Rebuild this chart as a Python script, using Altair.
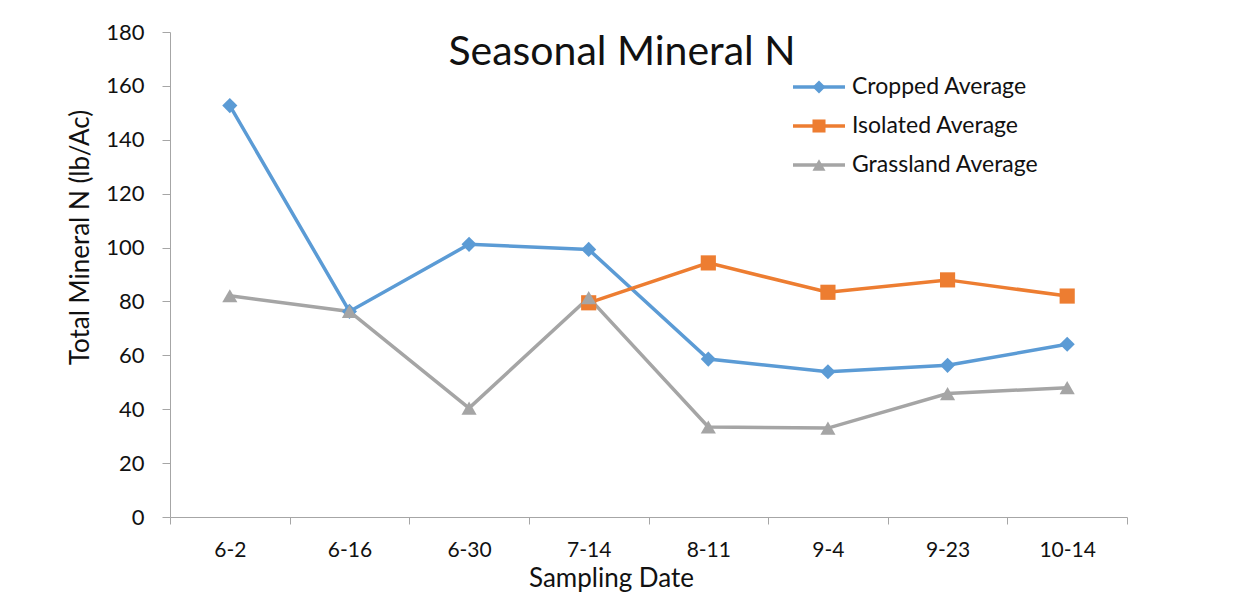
import altair as alt
import pandas as pd

dates = ["6-2", "6-16", "6-30", "7-14", "8-11", "9-4", "9-23", "10-14"]
series_names = ["Cropped Average", "Isolated Average", "Grassland Average"]
cropped = [152.7, 76.3, 101.2, 99.3, 58.6, 53.9, 56.3, 64.1]
isolated = [None, None, None, 79.5, 94.3, 83.4, 88.0, 82.0]
grassland = [82.1, 76.3, 40.4, 81.4, 33.4, 33.0, 45.8, 48.0]
colors = ["#5B9BD5", "#ED7D31", "#A5A5A5"]
shapes = ["diamond", "square", "triangle-up"]

rows = []
for name, vals in zip(series_names, [cropped, isolated, grassland]):
    for d, v in zip(dates, vals):
        if v is not None:
            rows.append({"date": d, "series": name, "value": v})
df = pd.DataFrame(rows)

FONT = "Lato"
AXIS_COLOR = "#A6A6A6"

x_enc = alt.X("date:N", sort=dates,
              scale=alt.Scale(domain=dates, paddingInner=0, paddingOuter=0),
              axis=alt.Axis(title="Sampling Date", labelAngle=0, tickBand="extent",
                            labelFont=FONT, labelFontSize=21, labelColor="#111",
                            labelPadding=15, tickSize=7, tickColor=AXIS_COLOR,
                            domainColor=AXIS_COLOR, titleFont=FONT, titleFontSize=26,
                            titleFontWeight="normal", titleColor="#111", titlePadding=5,
                            titleX=441))
y_enc = alt.Y("value:Q", scale=alt.Scale(domain=[0, 180], nice=False),
              axis=alt.Axis(title="Total Mineral N (lb/Ac)", values=list(range(0, 181, 20)),
                            grid=False, labelFont=FONT, labelFontSize=22, labelColor="#111",
                            labelPadding=18, tickSize=8, tickColor=AXIS_COLOR,
                            domainColor=AXIS_COLOR, titleFont=FONT, titleFontSize=26,
                            titleFontWeight="normal", titleColor="#111", titlePadding=12,
                            titleY=205))
color_enc = alt.Color("series:N", scale=alt.Scale(domain=series_names, range=colors), legend=None)
shape_enc = alt.Shape("series:N", scale=alt.Scale(domain=series_names, range=shapes), legend=None)

lines = alt.Chart(df).mark_line(strokeWidth=3.5).encode(x=x_enc, y=y_enc, color=color_enc,
                                                         detail="series:N")
points = alt.Chart(df).mark_point(filled=True, opacity=1, size=230).encode(
    x=alt.X("date:N", sort=dates), y="value:Q", color=color_enc, shape=shape_enc)

one = alt.Data(values=[{"a": 1}])
title = alt.Chart(one).mark_text(text="Seasonal Mineral N", font=FONT, fontSize=41,
                                 color="#111", align="center", baseline="middle").encode(
    x=alt.value(452), y=alt.value(21))

legend_layers = []
for i, (name, col, shp) in enumerate(zip(series_names, colors, shapes)):
    yy = 55 + 39 * i
    legend_layers.append(alt.Chart(one).mark_rule(color=col, strokeWidth=3.5).encode(
        x=alt.value(623), x2=alt.value(675), y=alt.value(yy)))
    legend_layers.append(alt.Chart(one).mark_point(color=col, filled=True, opacity=1,
                                                   shape=shp, size=170).encode(
        x=alt.value(649), y=alt.value(yy)))
    legend_layers.append(alt.Chart(one).mark_text(text=name, font=FONT, fontSize=23,
                                                  color="#111", align="left",
                                                  baseline="middle").encode(
        x=alt.value(682), y=alt.value(yy)))

chart = alt.layer(lines, points, title, *legend_layers).properties(
    width=957, height=485,
    background="white",
    autosize=alt.AutoSizeParams(type="none"),
    padding={"left": 162, "top": 24, "right": 114, "bottom": 83},
).configure_view(strokeOpacity=0, strokeWidth=0)

chart.save("out.html", embed_options={"renderer": "svg", "actions": False})
